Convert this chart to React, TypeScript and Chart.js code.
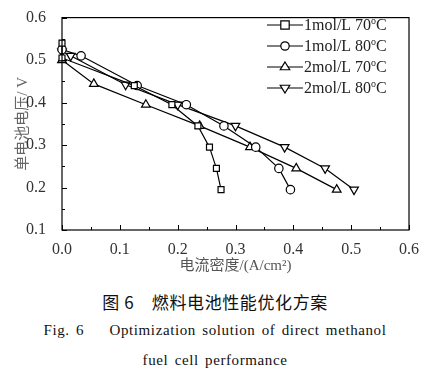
import React, { useEffect, useRef } from "react";
import { Chart, registerables } from "chart.js";
Chart.register(...registerables);

// data
const seriesNames = ["1mol/L 70", "1mol/L 80", "2mol/L 70", "2mol/L 80"];
const sqX = [0, 0, 0.125, 0.19, 0.235, 0.255, 0.267, 0.275];
const sqY = [0.54, 0.505, 0.44, 0.395, 0.345, 0.295, 0.245, 0.195];
const ciX = [0, 0.033, 0.13, 0.215, 0.28, 0.335, 0.375, 0.395];
const ciY = [0.525, 0.51, 0.44, 0.395, 0.345, 0.295, 0.245, 0.195];
const tuX = [0, 0.055, 0.145, 0.238, 0.325, 0.405, 0.475];
const tuY = [0.5, 0.444, 0.395, 0.345, 0.295, 0.245, 0.195];
const tdX = [0, 0.015, 0.11, 0.2, 0.3, 0.385, 0.455, 0.505];
const tdY = [0.52, 0.51, 0.442, 0.395, 0.345, 0.295, 0.245, 0.195];
const xTicks = [0, 0.1, 0.2, 0.3, 0.4, 0.5, 0.6];
const yTicks = [0.1, 0.2, 0.3, 0.4, 0.5, 0.6];

const styles: any[] = [
  { pointStyle: "rect", rotation: 0, radius: 4.2 },
  { pointStyle: "circle", rotation: 0, radius: 4.2 },
  { pointStyle: "triangle", rotation: 0, radius: 5 },
  { pointStyle: "triangle", rotation: 180, radius: 5 },
];

const SERIF = "'Liberation Serif', 'Noto Sans CJK SC', serif";

const pts = (xs: number[], ys: number[]) => xs.map((x, i) => ({ x, y: ys[i] }));

function drawMarker(ctx: CanvasRenderingContext2D, st: any, x: number, y: number) {
  ctx.save();
  ctx.fillStyle = "#fff";
  ctx.strokeStyle = "#000";
  ctx.lineWidth = 1.2;
  ctx.beginPath();
  const r = st.radius;
  if (st.pointStyle === "rect") {
    ctx.rect(x - r, y - r, 2 * r, 2 * r);
  } else if (st.pointStyle === "circle") {
    ctx.arc(x, y, r, 0, Math.PI * 2);
  } else {
    const s = st.rotation === 180 ? -1 : 1;
    ctx.moveTo(x, y - s * r);
    ctx.lineTo(x + r * 0.95, y + s * r * 0.55);
    ctx.lineTo(x - r * 0.95, y + s * r * 0.55);
    ctx.closePath();
  }
  ctx.fill();
  ctx.stroke();
  ctx.restore();
}

const frame = {
  id: "frame",
  afterDraw(chart: any) {
    const { ctx, chartArea: a, scales } = chart;
    ctx.save();
    ctx.strokeStyle = "#000";
    ctx.lineWidth = 1.2;
    ctx.strokeRect(a.left, a.top, a.right - a.left, a.bottom - a.top);
    ctx.lineWidth = 1;
    for (let v = 0; v <= 0.6001; v += 0.05) {
      const px = Math.round(scales.x.getPixelForValue(v)) + 0.5;
      const major = Math.abs(v * 10 - Math.round(v * 10)) < 1e-6;
      const len = major ? 5 : 3;
      ctx.beginPath();
      ctx.moveTo(px, a.bottom);
      ctx.lineTo(px, a.bottom - len);
      ctx.stroke();
    }
    for (let v = 0.1; v <= 0.6001; v += 0.05) {
      const py = Math.round(scales.y.getPixelForValue(v)) + 0.5;
      const major = Math.abs(v * 10 - Math.round(v * 10)) < 1e-6;
      const len = major ? 5 : 3;
      ctx.beginPath();
      ctx.moveTo(a.left, py);
      ctx.lineTo(a.left + len, py);
      ctx.stroke();
    }
    // legend
    const rows = [25, 46, 67, 88];
    chart.data.datasets.forEach((ds: any, i: number) => {
      const y = rows[i];
      ctx.strokeStyle = "#000";
      ctx.lineWidth = 1.2;
      ctx.beginPath();
      ctx.moveTo(267, y);
      ctx.lineTo(303, y);
      ctx.stroke();
      drawMarker(ctx, styles[i], 285, y);
      ctx.fillStyle = "#222";
      ctx.font = "16px " + SERIF;
      ctx.textBaseline = "middle";
      ctx.textAlign = "left";
      const main = ds.label;
      ctx.fillText(main, 304, y + 1);
      const w = ctx.measureText(main).width;
      ctx.font = "10px " + SERIF;
      ctx.fillText("o", 304 + w, y - 4);
      ctx.font = "16px " + SERIF;
      ctx.fillText("C", 304 + w + 5, y + 1);
    });
    ctx.restore();
  },
};

export default function App() {
  const ref = useRef<HTMLCanvasElement>(null);
  useEffect(() => {
    document.body.style.margin = "0";
    const sets = [pts(sqX, sqY), pts(ciX, ciY), pts(tuX, tuY), pts(tdX, tdY)];
    const chart = new Chart(ref.current!, {
      type: "line",
      data: {
        datasets: sets.map((d, i) => ({
          label: seriesNames[i],
          data: d,
          borderColor: "#000",
          borderWidth: 1.2,
          backgroundColor: "#fff",
          pointBackgroundColor: "#fff",
          pointBorderColor: "#000",
          pointBorderWidth: 1.2,
          pointStyle: styles[i].pointStyle,
          pointRotation: styles[i].rotation,
          pointRadius: styles[i].radius,
          tension: 0,
          clip: false as any,
        })),
      },
      options: {
        animation: false,
        responsive: false,
        layout: { padding: { top: 12, right: 21, left: 0, bottom: 0 } },
        plugins: { legend: { display: false }, tooltip: { enabled: false } },
        scales: {
          x: {
            type: "linear",
            min: 0,
            max: 0.6,
            afterBuildTicks: (s: any) => {
              s.ticks = xTicks.map((v) => ({ value: v }));
            },
            afterFit: (s: any) => {
              s.height = 50;
            },
            grid: { display: false },
            border: { display: false },
            ticks: {
              callback: (v: any) => Number(v).toFixed(1),
              color: "#333",
              font: { family: SERIF, size: 16 },
              padding: 2,
              maxRotation: 0,
            },
            title: {
              display: true,
              text: "电流密度/(A/cm²)",
              color: "#555",
              font: { family: SERIF, size: 15 },
              padding: { top: 2, bottom: 5 },
            },
          },
          y: {
            type: "linear",
            min: 0.1,
            max: 0.6,
            afterBuildTicks: (s: any) => {
              s.ticks = yTicks.map((v) => ({ value: v }));
            },
            afterFit: (s: any) => {
              s.width = 62;
            },
            grid: { display: false },
            border: { display: false },
            ticks: {
              callback: (v: any) => Number(v).toFixed(1),
              color: "#333",
              font: { family: SERIF, size: 16 },
              padding: 8,
            },
            title: {
              display: true,
              text: "单电池电压/ V",
              color: "#666",
              font: { family: SERIF, size: 15 },
              padding: { top: 14, bottom: 0 },
            },
          },
        },
      },
      plugins: [frame],
    });
    return () => chart.destroy();
  }, []);

  const cap: React.CSSProperties = {
    position: "absolute",
    left: 0,
    width: 430,
    textAlign: "center",
    whiteSpace: "pre",
    color: "#111",
  };
  return (
    <div style={{ position: "relative", width: 430, height: 374, background: "#fff" }}>
      <canvas ref={ref} width={430} height={280} style={{ position: "absolute", left: 0, top: 0 }} />
      <div style={{ ...cap, top: 289, fontFamily: "'Noto Sans CJK SC', sans-serif", fontSize: 17, fontWeight: 400, letterSpacing: 0.6 }}>
        {"图 6    燃料电池性能优化方案"}
      </div>
      <div style={{ ...cap, top: 322, fontFamily: SERIF, fontSize: 15, letterSpacing: 0.6, wordSpacing: 2 }}>
        {"Fig. 6    Optimization solution of direct methanol"}
      </div>
      <div style={{ ...cap, top: 352, fontFamily: SERIF, fontSize: 15, letterSpacing: 0.6, wordSpacing: 2 }}>
        {"fuel cell performance"}
      </div>
    </div>
  );
}
